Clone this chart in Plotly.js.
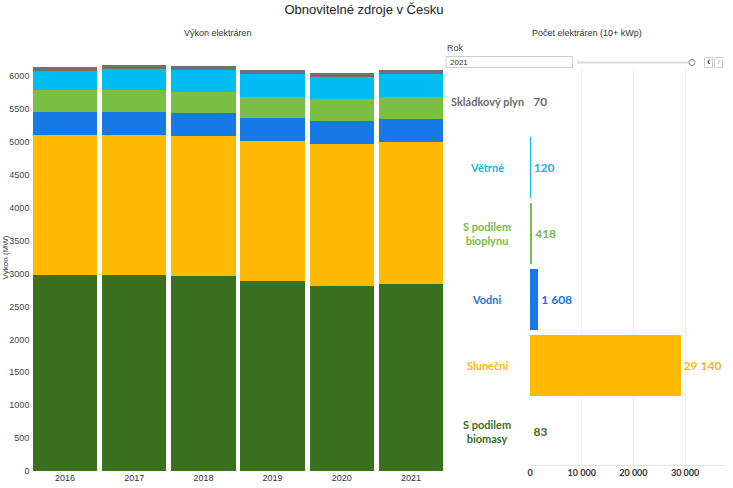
<!DOCTYPE html>
<html>
<head>
<meta charset="utf-8">
<script src="https://cdn.plot.ly/plotly-3.0.1.min.js"></script>
<style>html,body{margin:0;padding:0;background:#fff;}#chart{width:733px;height:488px;}</style>
</head>
<body>
<div id="chart"></div>
<script>
// ---- Data ----
const years = ['2016', '2017', '2018', '2019', '2020', '2021'];
const seriesNames = ['S podilem biomasy', 'Slunečni', 'Vodni', 'S podilem bioplynu', 'Větrné', 'Skládkový plyn'];
const biomasa   = [2979, 2979, 2968, 2883, 2816, 2847];
const slunecni  = [2132, 2132, 2119, 2132, 2158, 2153];
const vodni     = [350, 350, 358, 345, 350, 350];
const bioplyn   = [329, 329, 320, 329, 329, 339];
const vetrne    = [284, 315, 329, 349, 340, 344];
const skladkovy = [61, 61, 61, 56, 60, 61];
const capacitySeries = [biomasa, slunecni, vodni, bioplyn, vetrne, skladkovy];

const countCategories = ['S podilem<br>biomasy', 'Slunečni', 'Vodni', 'S podilem<br>bioplynu', 'Větrné', 'Skládkový plyn'];
const plantCounts = [83, 29140, 1608, 418, 120, 70];
const xTicks2 = [0, 10000, 20000, 30000];

// ---- Styles ----
const barColors   = ['#3a6f1d', '#ffb900', '#1679e6', '#79bf44', '#00bdf1', '#707070'];
const labelColors = ['#3a6f1d', '#f8b615', '#1a74db', '#79b948', '#18b3e4', '#6b6b6b'];

const W = 733, H = 488;
const px = x => x / W;
const py = y => 1 - y / H;

const traces = capacitySeries.map((vals, i) => ({
  type: 'bar', name: seriesNames[i], x: years, y: vals,
  marker: {color: barColors[i], line: {width: 0}},
  xaxis: 'x', yaxis: 'y', showlegend: false, hoverinfo: 'x+y+name'
}));

traces.push({
  type: 'bar', orientation: 'h', x: plantCounts, y: countCategories,
  xaxis: 'x2', yaxis: 'y2', showlegend: false,
  marker: {color: barColors, line: {width: 0}},
  texttemplate: '%{x:,}', textposition: 'outside', cliponaxis: false,
  textfont: {family: 'Lato', size: 12, weight: 'bold', color: labelColors}
});

const annotations = [
  {text: 'Výkon elektráren', xref: 'paper', yref: 'paper', x: px(218), y: py(33), xanchor: 'center', yanchor: 'middle', showarrow: false, font: {size: 9, color: '#333'}},
  {text: 'Počet elektráren (10+ kWp)', xref: 'paper', yref: 'paper', x: px(587), y: py(33), xanchor: 'center', yanchor: 'middle', showarrow: false, font: {size: 9, color: '#333'}},
  {text: 'Výkon (MW)', xref: 'paper', yref: 'paper', x: px(4.5), y: py(258), xanchor: 'center', yanchor: 'middle', textangle: -90, showarrow: false, font: {size: 8, color: '#333'}},
  {text: 'Rok', xref: 'paper', yref: 'paper', x: px(445), y: py(48), xanchor: 'left', yanchor: 'middle', showarrow: false, font: {size: 9, color: '#444'}},
  {text: years[years.length - 1], xref: 'paper', yref: 'paper', x: px(448), y: py(62.5), xanchor: 'left', yanchor: 'middle', showarrow: false, font: {size: 8, color: '#333'}},
  {text: '‹', xref: 'paper', yref: 'paper', x: px(708.5), y: py(62), xanchor: 'center', yanchor: 'middle', showarrow: false, font: {size: 10, color: '#333', weight: 'bold'}},
  {text: '›', xref: 'paper', yref: 'paper', x: px(718.5), y: py(62), xanchor: 'center', yanchor: 'middle', showarrow: false, font: {size: 10, color: '#bbb'}}
];

countCategories.forEach((c, i) => {
  annotations.push({
    text: c, xref: 'x2 domain', yref: 'y2', x: (487 - 530) / 195, y: c,
    xanchor: 'center', yanchor: 'middle', align: 'center', showarrow: false,
    font: {family: 'Lato', size: 11, weight: 'bold', color: labelColors[i]}
  });
});

const shapes = [
  {type: 'rect', xref: 'paper', yref: 'paper', x0: px(446), x1: px(572.5), y0: py(67.5), y1: py(56.5), line: {color: '#d0d0d0', width: 1}, fillcolor: '#fff', layer: 'below'},
  {type: 'line', xref: 'paper', yref: 'paper', x0: px(577), x1: px(690), y0: py(62.5), y1: py(62.5), line: {color: '#dcdcdc', width: 2}},
  {type: 'circle', xref: 'paper', yref: 'paper', x0: px(689), x1: px(695), y0: py(65.5), y1: py(59.5), line: {color: '#888', width: 1}, fillcolor: '#fff'},
  {type: 'rect', xref: 'paper', yref: 'paper', x0: px(704.5), x1: px(712.5), y0: py(67.5), y1: py(57.5), line: {color: '#cfcfcf', width: 1}, fillcolor: '#fff', layer: 'below'},
  {type: 'rect', xref: 'paper', yref: 'paper', x0: px(714.5), x1: px(722.5), y0: py(67.5), y1: py(57.5), line: {color: '#cfcfcf', width: 1}, fillcolor: '#fff', layer: 'below'}
];

const layout = {
  width: W, height: H,
  margin: {l: 0, r: 0, t: 0, b: 0, pad: 0},
  paper_bgcolor: '#fff', plot_bgcolor: 'rgba(0,0,0,0)',
  font: {family: 'Liberation Sans, Arial, sans-serif', size: 9, color: '#333'},
  separators: ', ',
  barmode: 'stack', bargap: 0.07,
  title: {text: 'Obnovitelné zdroje v Česku', x: px(364), xanchor: 'center', y: py(9), yanchor: 'middle', yref: 'container', xref: 'container', font: {size: 13, color: '#222'}},
  xaxis: {domain: [px(30.4), px(445.6)], type: 'category', showgrid: false, zeroline: false, showline: false, ticks: '', tickfont: {size: 9, color: '#333'}, fixedrange: true},
  yaxis: {domain: [py(471), py(56.5)], range: [0, 6300], dtick: 500, tickformat: 'd', showgrid: false, zeroline: false, showline: false, ticks: '', tickfont: {size: 9, color: '#444'}, fixedrange: true},
  xaxis2: {domain: [px(530), px(725)], range: [0, 37720], anchor: 'y2', tickvals: xTicks2, tickformat: ',', showgrid: true, gridcolor: '#eeeeee', gridwidth: 1, zeroline: false, showline: true, linecolor: '#e3e3e3', ticks: '', tickfont: {family: 'Lato', size: 9, weight: 'bold', color: '#333'}, fixedrange: true},
  yaxis2: {domain: [py(464.5), py(68.5)], anchor: 'x2', type: 'category', range: [-0.5, 5.5], showticklabels: false, showgrid: false, zeroline: false, showline: false, ticks: '', fixedrange: true},
  annotations: annotations,
  shapes: shapes
};

Plotly.newPlot('chart', traces, layout, {displayModeBar: false, staticPlot: true});
</script>
</body>
</html>
